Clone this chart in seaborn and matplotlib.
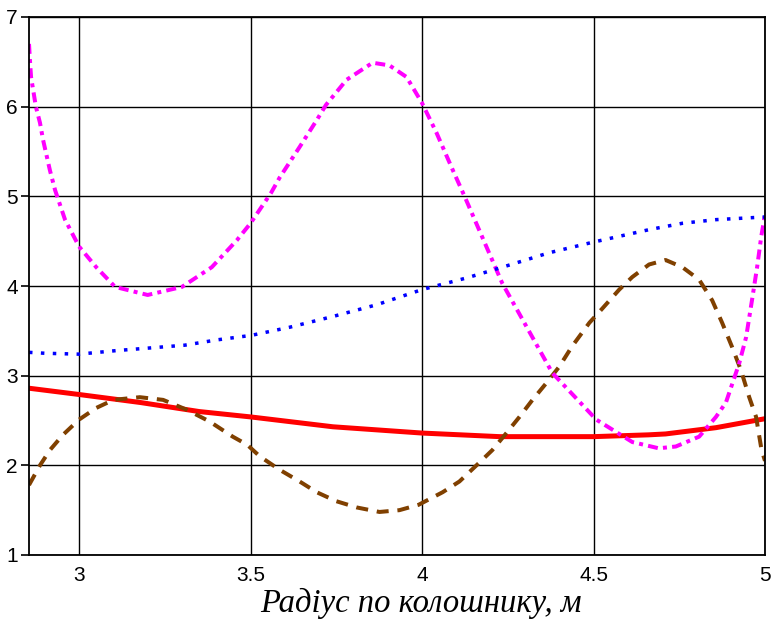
import matplotlib
matplotlib.use("Agg")
import matplotlib.pyplot as plt
import seaborn as sns
import pandas as pd

# ---------------- data ----------------
x_ticks = [3, 3.5, 4, 4.5, 5]
x_tick_labels = ["3", "3.5", "4", "4.5", "5"]
y_ticks = [1, 2, 3, 4, 5, 6, 7]
y_tick_labels = ["1", "2", "3", "4", "5", "6", "7"]
x_label = "Радіус по колошнику, м"

red_x = [2.854, 3.0, 3.18, 3.35, 3.5, 3.74, 4.0, 4.226, 4.5, 4.66, 4.71, 4.857, 5.0]
red_y = [2.86, 2.79, 2.70, 2.60, 2.54, 2.43, 2.36, 2.32, 2.32, 2.34, 2.35, 2.42, 2.52]

blue_x = [2.854, 2.9, 3.0, 3.11, 3.21, 3.308, 3.404, 3.503, 3.614, 3.74, 3.867,
          4.0, 4.13, 4.226, 4.37, 4.5, 4.664, 4.76, 4.857, 5.0]
blue_y = [3.26, 3.25, 3.24, 3.28, 3.31, 3.34, 3.40, 3.45, 3.54, 3.66, 3.79,
          3.96, 4.09, 4.20, 4.37, 4.49, 4.63, 4.70, 4.74, 4.77]

brown_x = [2.854, 2.886, 2.915, 2.953, 3.0, 3.05, 3.1, 3.177, 3.245, 3.314, 3.38,
           3.448, 3.49, 3.527, 3.585, 3.643, 3.693, 3.75, 3.81, 3.876, 3.934, 3.99,
           4.06, 4.109, 4.167, 4.205, 4.246, 4.284, 4.322, 4.363, 4.40, 4.438, 4.488,
           4.526, 4.575, 4.613, 4.662, 4.71, 4.759, 4.808, 4.846, 4.875, 4.904, 4.93,
           4.954, 4.974, 4.99, 5.0]
brown_y = [1.78, 2.00, 2.17, 2.34, 2.51, 2.64, 2.73, 2.76, 2.73, 2.62, 2.49,
           2.32, 2.23, 2.10, 1.95, 1.82, 1.70, 1.60, 1.53, 1.48, 1.50, 1.56,
           1.70, 1.82, 2.03, 2.17, 2.36, 2.54, 2.73, 2.92, 3.10, 3.33, 3.59,
           3.75, 3.96, 4.10, 4.24, 4.29, 4.21, 4.07, 3.84, 3.59, 3.32, 3.06,
           2.76, 2.54, 2.17, 2.05]

magenta_x = [2.854, 2.857, 2.860, 2.866, 2.874, 2.886, 2.895, 2.915, 2.93, 2.959,
             3.0, 3.05, 3.105, 3.2, 3.30, 3.387, 3.46, 3.50, 3.56, 3.585, 3.643,
             3.693, 3.72, 3.78, 3.856, 3.905, 3.955, 4.0, 4.042, 4.09, 4.124, 4.234,
             4.38, 4.508, 4.613, 4.69, 4.74, 4.808, 4.857, 4.886, 4.925, 4.945,
             4.962, 4.977, 4.989, 5.0]
magenta_y = [6.70, 6.50, 6.33, 6.19, 6.00, 5.82, 5.63, 5.29, 5.07, 4.74,
             4.44, 4.21, 3.99, 3.90, 3.99, 4.21, 4.51, 4.70, 5.04, 5.21, 5.55,
             5.85, 6.02, 6.30, 6.49, 6.46, 6.33, 6.04, 5.71, 5.29, 5.00, 4.03,
             3.03, 2.51, 2.26, 2.19, 2.21, 2.32, 2.54, 2.70, 3.14, 3.43,
             3.84, 4.21, 4.55, 4.80]

# ---------------- style ----------------
sns.set_theme(style="white")
plt.rcParams["font.family"] = ["Liberation Sans", "DejaVu Sans"]

W, H = 771, 637
fig = plt.figure(figsize=(W / 100, H / 100), dpi=100)
L, R, T, B = 29, 765, 17, 555
ax = fig.add_axes([L / W, 1 - B / H, (R - L) / W, (B - T) / H])
ax.set_facecolor("white")

px = 72 / 100  # points per pixel

series = [
    (red_x, red_y, "#ff0000", 5.0, None),
    (brown_x, brown_y, "#804000", 4.0, (3.0, 2.2)),
    (magenta_x, magenta_y, "#ff00ff", 4.0, (2.5, 1.3, 1.0, 1.3)),
    (blue_x, blue_y, "#0000ff", 3.5, (1.0, 2.4)),
]
for xs, ys, col, lw, dash in series:
    df = pd.DataFrame({"x": xs, "y": ys})
    sns.lineplot(data=df, x="x", y="y", ax=ax, color=col, linewidth=lw * px,
                 sort=False, estimator=None)
    line = ax.lines[-1]
    if dash is not None:
        line.set_dashes(dash)

ax.set_xlim(2.854, 5.0)
ax.set_ylim(1, 7)
ax.set_xticks(x_ticks)
ax.set_xticklabels(x_tick_labels)
ax.set_yticks(y_ticks)
ax.set_yticklabels(y_tick_labels)
ax.set_xlabel("")
ax.set_ylabel("")
ax.grid(True, color="black", linewidth=1.0)
ax.set_axisbelow(True)
for s in ax.spines.values():
    s.set_color("black")
    s.set_linewidth(1.3)
ax.tick_params(axis="x", length=0, pad=8, labelsize=15, colors="black")
ax.tick_params(axis="y", length=6, width=1.2, pad=2, labelsize=15, colors="black",
               direction="out", left=True)

fig.text(421 / W, 1 - 603 / H, x_label, ha="center", va="center",
         family=["Liberation Serif", "DejaVu Serif"], style="italic", fontsize=23.5,
         color="black")

fig.savefig("out.png", dpi=100)
